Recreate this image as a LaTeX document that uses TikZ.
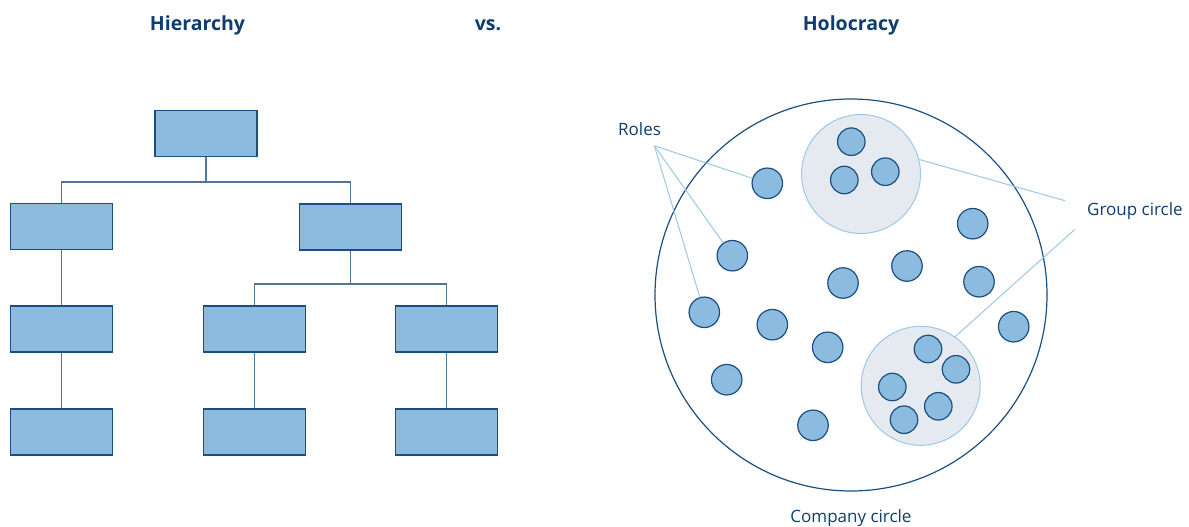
\documentclass[tikz,border=0pt]{standalone}
\usepackage{fontspec}
\setmainfont{Open Sans}
\definecolor{navy}{HTML}{0F3E6E}
\definecolor{edge}{HTML}{1C4E80}
\definecolor{boxfill}{HTML}{8BBBDF}
\definecolor{conn}{HTML}{4F7599}
\definecolor{lightline}{HTML}{9DC8E8}
\definecolor{grpfill}{HTML}{E4EAF0}
\begin{document}
\begin{tikzpicture}[x=1pt,y=-1pt,
  hbox/.style={draw=edge,line width=1.5pt,fill=boxfill,minimum width=102pt,minimum height=46pt,inner sep=0pt},
  hconn/.style={draw=conn,line width=1.5pt},
  role/.style={circle,draw=edge,line width=1.2pt,fill=boxfill,minimum size=30.5pt,inner sep=0pt},
  subrole/.style={circle,draw=edge,line width=1.2pt,fill=boxfill,minimum size=27.5pt,inner sep=0pt},
  grp/.style={circle,draw=lightline,line width=1pt,fill=grpfill,minimum size=119pt,inner sep=0pt},
  lab/.style={anchor=base,text=navy,font=\fontsize{17}{20}\selectfont,inner sep=0pt},
  ttl/.style={anchor=base,text=navy,font=\fontsize{19.5}{23}\selectfont\bfseries,inner sep=0pt},
  thin/.style={draw=lightline,line width=1pt}]
\useasboundingbox (0,0) rectangle (1189,527);
% titles
\node[ttl] (t1) at (197.5,31) {Hierarchy};
\node[ttl] (t2) at (488,31) {vs.};
\node[ttl] (t3) at (851,31) {Holocracy};
% hierarchy
\node[hbox] (top) at (206,133.5) {};
\node[hbox] (l2) at (61.5,226.5) {};
\node[hbox] (r2) at (350.5,227) {};
\node[hbox] (a3) at (61.5,329) {};
\node[hbox] (b3) at (254.5,329) {};
\node[hbox] (c3) at (446.5,329) {};
\node[hbox] (a4) at (61.5,432) {};
\node[hbox] (b4) at (254.5,432) {};
\node[hbox] (c4) at (446.5,432) {};
\coordinate (j1) at (206,182);
\coordinate (j2) at (350.5,284);
\draw[hconn] (top.south) -- (j1);
\draw[hconn] (l2.north) |- (j1) -| (r2.north);
\draw[hconn] (r2.south) -- (j2);
\draw[hconn] (b3.north) |- (j2) -| (c3.north);
\draw[hconn] (l2.south) -- (a3.north);
\draw[hconn] (a3.south) -- (a4.north);
\draw[hconn] (b3.south) -- (b4.north);
\draw[hconn] (c3.south) -- (c4.north);
% holocracy
\node[circle,draw=edge,line width=1.2pt,minimum size=392pt,inner sep=0pt] (comp) at (851,295) {};
\node[grp] (g1) at (861,174) {};
\node[grp] (g2) at (920.7,385.8) {};
\node[subrole] (s1) at (851.3,141.7) {};
\node[subrole] (s2) at (844.3,180) {};
\node[subrole] (s3) at (885.3,171.7) {};
\node[subrole] (s4) at (928,349) {};
\node[subrole] (s5) at (956,369.3) {};
\node[subrole] (s6) at (892.3,387) {};
\node[subrole] (s7) at (938.3,406.3) {};
\node[subrole] (s8) at (904,419.7) {};
\node[role] (r1) at (767.3,183.3) {};
\node[role] (r2c) at (732.3,255.7) {};
\node[role] (r3) at (704.3,312.3) {};
\node[role] (r4) at (772.3,324.7) {};
\node[role] (r5) at (827.7,347.3) {};
\node[role] (r6) at (726.7,379.7) {};
\node[role] (r7) at (813,425.3) {};
\node[role] (r8) at (843,283) {};
\node[role] (r9) at (907,266) {};
\node[role] (r10) at (972.7,223.7) {};
\node[role] (r11) at (979,281.7) {};
\node[role] (r12) at (1013.7,326.7) {};
% labels
\node[lab,anchor=base west] (roles) at (618,135.7) {Roles};
\node[lab,anchor=base west] (gc) at (1087,215) {Group circle};
\node[lab] (cc) at (851,522) {Company circle};
\coordinate (ro) at (654.3,145.7);
\coordinate (ga) at (1065,200.7);
\coordinate (gb) at (1075,229.3);
\draw[thin] (ro) -- (r1);
\draw[thin] (ro) -- (r2c);
\draw[thin] (ro) -- (r3);
\draw[thin] (g1.14) -- (ga);
\draw[thin] (g2.55) -- (gb);
\end{tikzpicture}
\end{document}
